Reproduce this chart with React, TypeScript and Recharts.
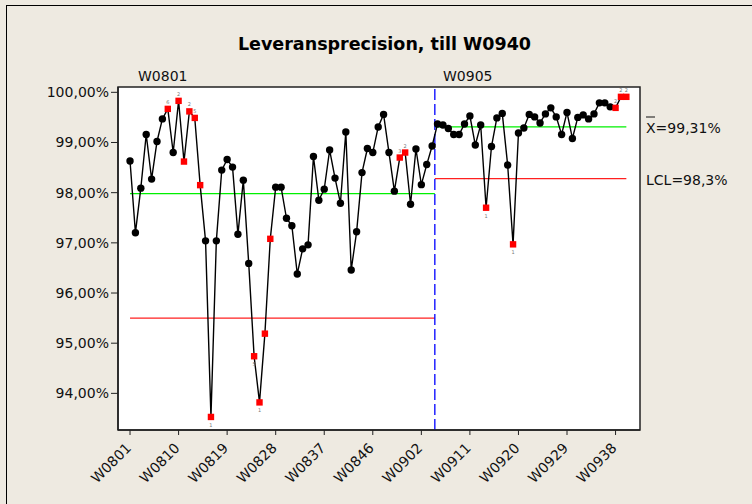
import { LineChart, Line, XAxis, YAxis, CartesianGrid, ReferenceLine, ReferenceArea } from 'recharts'

// weekly delivery precision, W0801 .. W0940 (2008 has 53 weeks)
const weeks = [
  'W0801', 'W0802', 'W0803', 'W0804', 'W0805', 'W0806', 'W0807', 'W0808', 'W0809', 'W0810',
  'W0811', 'W0812', 'W0813', 'W0814', 'W0815', 'W0816', 'W0817', 'W0818', 'W0819', 'W0820',
  'W0821', 'W0822', 'W0823', 'W0824', 'W0825', 'W0826', 'W0827', 'W0828', 'W0829', 'W0830',
  'W0831', 'W0832', 'W0833', 'W0834', 'W0835', 'W0836', 'W0837', 'W0838', 'W0839', 'W0840',
  'W0841', 'W0842', 'W0843', 'W0844', 'W0845', 'W0846', 'W0847', 'W0848', 'W0849', 'W0850',
  'W0851', 'W0852', 'W0853',
  'W0901', 'W0902', 'W0903', 'W0904', 'W0905', 'W0906', 'W0907', 'W0908', 'W0909', 'W0910',
  'W0911', 'W0912', 'W0913', 'W0914', 'W0915', 'W0916', 'W0917', 'W0918', 'W0919', 'W0920',
  'W0921', 'W0922', 'W0923', 'W0924', 'W0925', 'W0926', 'W0927', 'W0928', 'W0929', 'W0930',
  'W0931', 'W0932', 'W0933', 'W0934', 'W0935', 'W0936', 'W0937', 'W0938', 'W0939', 'W0940',
]

const values = [
  98.63, 97.2, 98.09, 99.16, 98.27, 99.02, 99.47, 99.67, 98.8, 99.83,
  98.62, 99.62, 99.49, 98.15, 97.04, 93.53, 97.04, 98.45, 98.66, 98.51,
  97.17, 98.25, 96.59, 94.74, 93.82, 95.19, 97.08, 98.11, 98.11, 97.49,
  97.34, 96.38, 96.88, 96.96, 98.72, 97.85, 98.07, 98.85, 98.29, 97.79,
  99.21, 96.46, 97.22, 98.4, 98.88, 98.8, 99.31, 99.56, 98.8, 98.03,
  98.7, 98.8, 97.77, 98.87, 98.16, 98.56, 98.93, 99.37, 99.35, 99.28,
  99.16, 99.16, 99.37, 99.53, 98.95, 99.35, 97.7, 98.92, 99.49, 99.58,
  98.55, 96.97, 99.19, 99.29, 99.56, 99.51, 99.39, 99.57, 99.69, 99.51,
  99.16, 99.6, 99.08, 99.5, 99.55, 99.47, 99.57, 99.79, 99.79, 99.71,
  99.69, 99.91, 99.91,
]

// points flagged by the test rules, and the small test number next to them
const flaggedIdx = [7, 9, 10, 11, 12, 13, 15, 23, 24, 25, 26, 50, 51, 66, 71, 90, 91, 92]
const flagNotes = ['6', '2', '', '2', '5', '', '1', '5', '1', '', '', '3', '2', '1', '1', '2', '2', '2']

const stageStart = [0, 57]
const stageEnd = [56, 92]
const stageMean = [97.98, 99.31]
const stageLcl = [95.5, 98.28]

const xTicks = [0, 9, 18, 27, 36, 45, 54, 63, 72, 81, 90]
const yTicks = [94, 95, 96, 97, 98, 99, 100]

const data = values.map((v, i) => ({ i, week: weeks[i], v }))
const splitAt = stageStart[1] - 0.5

const X_DOMAIN = [-2.23, 94.53]
const Y_DOMAIN = [93.27, 100.106]

const FONT = '"DejaVu Sans", sans-serif'
const AXIS = '#222'

const fmtPct = (v: number) => v.toFixed(2).replace('.', ',') + '%'

function XTick(props: any) {
  const { x, y, payload } = props
  const ax = x + 2
  const ay = y + 12
  return (
    <text x={ax} y={ay} transform={`rotate(-45 ${ax} ${ay})`} textAnchor="end" fontSize={14} fontFamily={FONT} fill="#111">
      {weeks[payload.value]}
    </text>
  )
}

function renderDot(props: any) {
  const { cx, cy, index } = props
  const k = flaggedIdx.indexOf(index)
  if (k < 0) return <circle key={index} cx={cx} cy={cy} r={3.7} fill="#000" />
  const note = flagNotes[k]
  const below = values[index] < (index < stageStart[1] ? stageMean[0] : stageMean[1])
  return (
    <g key={index}>
      <rect x={cx - 3.2} y={cy - 3.2} width={6.4} height={6.4} fill="#ff0000" />
      {note && (
        <text x={cx} y={below ? cy + 10 : cy - 5} fontSize={5} fill="#777" textAnchor="middle" fontFamily={FONT}>
          {note}
        </text>
      )}
    </g>
  )
}

export default function App() {
  return (
    <div style={{ position: 'absolute', left: 0, top: 0, width: 752, height: 504, background: '#EEEAE1', overflow: 'hidden' }}>
      <div style={{ position: 'absolute', left: 6, top: 5, width: 800, height: 600, border: '1px solid #000' }} />
      <LineChart width={752} height={504} data={data} margin={{ top: 87, right: 112, bottom: 44, left: 0 }}>
        <CartesianGrid fill="#fff" stroke="none" horizontal={false} vertical={false} />
        <XAxis
          type="number"
          dataKey="i"
          domain={X_DOMAIN}
          ticks={xTicks}
          interval={0}
          allowDataOverflow
          height={30}
          tickSize={5}
          tick={<XTick />}
          tickLine={{ stroke: AXIS }}
          axisLine={{ stroke: AXIS, strokeWidth: 1.5 }}
        />
        <YAxis
          type="number"
          domain={Y_DOMAIN}
          ticks={yTicks}
          interval={0}
          allowDataOverflow
          width={118}
          tickSize={7}
          tickMargin={2}
          tickFormatter={fmtPct}
          tick={{ fontSize: 14, fontFamily: FONT, fill: '#111' }}
          tickLine={{ stroke: AXIS }}
          axisLine={{ stroke: AXIS, strokeWidth: 1.5 }}
        />
        <ReferenceArea
          x1={X_DOMAIN[0]}
          x2={X_DOMAIN[1]}
          y1={Y_DOMAIN[0]}
          y2={Y_DOMAIN[1]}
          fill="none"
          stroke={AXIS}
          strokeWidth={1.5}
          ifOverflow="visible"
        />
        {stageStart.map((s, k) => (
          <ReferenceLine
            key={'cl' + k}
            segment={[{ x: k === 0 ? s : splitAt, y: stageMean[k] }, { x: k === 0 ? splitAt : stageEnd[k], y: stageMean[k] }]}
            stroke="#00f000"
            strokeWidth={1.2}
          />
        ))}
        {stageStart.map((s, k) => (
          <ReferenceLine
            key={'lcl' + k}
            segment={[{ x: k === 0 ? s : splitAt, y: stageLcl[k] }, { x: k === 0 ? splitAt : stageEnd[k], y: stageLcl[k] }]}
            stroke="#ff2020"
            strokeWidth={1.2}
          />
        ))}
        <ReferenceLine x={splitAt} stroke="#0000ff" strokeWidth={1.3} strokeDasharray="11 4" />
        <Line type="linear" dataKey="v" stroke="#000" strokeWidth={1.4} dot={renderDot} activeDot={false} isAnimationActive={false} />
      </LineChart>
      <svg width={752} height={504} style={{ position: 'absolute', left: 0, top: 0, pointerEvents: 'none' }} fontFamily={FONT}>
        <text x={384.5} y={49.5} textAnchor="middle" fontSize={17.5} fontWeight="bold" fill="#000">
          Leveransprecision, till W0940
        </text>
        <text x={138} y={80.5} fontSize={14} fill="#111">{weeks[stageStart[0]]}</text>
        <text x={443} y={80.5} fontSize={14} fill="#111">{weeks[stageStart[1]]}</text>
        <line x1={646} x2={655} y1={117} y2={117} stroke="#111" strokeWidth={1} />
        <text x={646} y={133} fontSize={14} fill="#111">X=99,31%</text>
        <text x={646} y={185} fontSize={14} fill="#111">LCL=98,3%</text>
      </svg>
    </div>
  )
}
